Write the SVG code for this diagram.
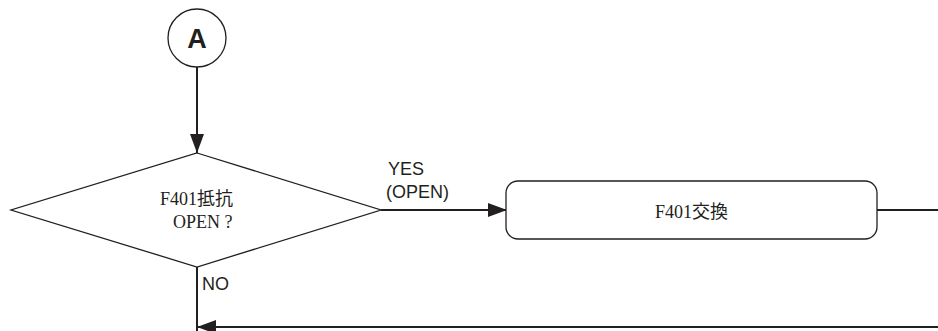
<svg xmlns="http://www.w3.org/2000/svg" width="938" height="331" viewBox="0 0 938 331">
<style>
.ln{fill:none;stroke:#231f20;stroke-width:2}
.sh{fill:#fff;stroke:#231f20;stroke-width:1.3}
.jp{font-family:"Liberation Serif","Noto Sans CJK JP",serif;font-size:18px;fill:#231f20}
.lb{font-family:"Liberation Sans",Arial,sans-serif;font-size:18px;fill:#231f20}
</style>
<defs>
<marker id="ah" markerUnits="userSpaceOnUse" markerWidth="20" markerHeight="14" refX="19" refY="7" orient="auto">
<path d="M0,0 L19,7 L0,14 Z" fill="#231f20"/>
</marker>
</defs>
<rect width="938" height="331" fill="#fff"/>
<g id="connectors">
<line class="ln" x1="197" y1="67" x2="197" y2="153" marker-end="url(#ah)"/>
<line class="ln" x1="381" y1="210" x2="507" y2="210" marker-end="url(#ah)"/>
<line class="ln" x1="877" y1="210" x2="938" y2="210"/>
<line class="ln" x1="197" y1="267" x2="197" y2="331"/>
<line class="ln" x1="938" y1="327" x2="197" y2="327" marker-end="url(#ah)"/>
<text class="lb" x="388" y="175">YES</text>
<text class="lb" x="386" y="198">(OPEN)</text>
<text class="lb" x="202" y="290" font-size="17">NO</text>
</g>
<g id="nodeA">
<circle class="sh" cx="197" cy="38" r="29"/>
<text x="197" y="48" text-anchor="middle" font-family="Liberation Sans,Arial,sans-serif" font-weight="bold" font-size="27" fill="#231f20">A</text>
</g>
<g id="decision">
<polygon class="sh" points="197,153 381,210 197,267 11,210"/>
<text class="jp" x="160" y="205">F401抵抗</text>
<text class="jp" x="173" y="228">OPEN ?</text>
</g>
<g id="replace">
<rect class="sh" x="506" y="181" width="371" height="58" rx="12"/>
<text class="jp" x="655" y="218">F401交換</text>
</g>
</svg>
